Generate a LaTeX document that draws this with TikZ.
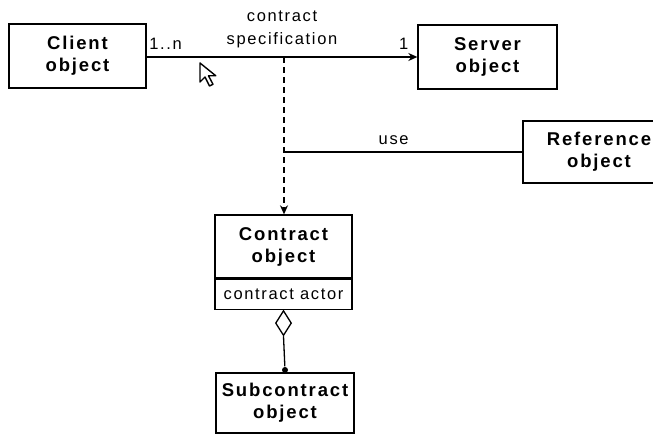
\documentclass[tikz,border=0pt]{standalone}
\usepackage{fontspec}
\setmainfont{Liberation Sans}[LetterSpace=10]
\usetikzlibrary{arrows.meta,shapes.geometric}

\begin{document}
\begin{tikzpicture}
  [x=1pt,y=-1pt,line width=1.3pt,every node/.style={inner sep=0pt,align=center}]
  \tikzstyle{obj} = [draw,font=\fontsize{18.5}{22}\selectfont\bfseries]
  \tikzstyle{lbl} = [font=\fontsize{16.5}{23}\selectfont]
  \tikzstyle{dep} = [dash pattern=on 6pt off 4pt,-{Stealth[length=9pt,width=8pt]}]
  \useasboundingbox (0,0) rectangle (653,435);
  % the classes
  \node[obj,minimum width=137,minimum height=64] (client) at (77.5,56)  {Client\\object};
  \node[obj,minimum width=139,minimum height=64] (server) at (487.5,57) {Server\\object};
  \node[obj,minimum width=152,minimum height=62] (ref)    at (599,152)  {Reference\\object};
  \node[obj,minimum width=137,minimum height=63] (contract) at (283.5,246.5) {Contract\\object};
  \node[draw,lbl,minimum width=137,minimum height=30,anchor=north] (actor) at (contract.south) {contract actor};
  \node[obj,minimum width=138,minimum height=60] (sub) at (285,403) {Subcontract\\object};
  % association and dependency
  \coordinate (spec) at (284,57);
  \coordinate (usejoin) at (284,152);
  \draw[-{Stealth[length=9pt,width=8pt]}] (client.east |- spec) --
    node[lbl,pos=0.07,above=7pt] {1..n}
    node[lbl,pos=0.5,above=8pt] {contract\\specification}
    node[lbl,pos=0.95,above=7pt] {1} (server.west |- spec);
  \draw[dep] (spec) -- (contract.north -| spec);
  \draw (ref.west) -- node[lbl,pos=0.54,above=7pt] {use} (usejoin);
  % aggregation
  \node[draw,diamond,fill=white,minimum width=16,minimum height=25,anchor=north] (agg) at (actor.south) {};
  \node[circle,fill,minimum size=6] (dot) at (285,370) {};
  \draw (agg.south) -- (dot);
  % mouse pointer
  \draw[line width=1.4pt,fill=white,line join=round]
    (200,63) -- ++(0,19) -- ++(5,-5) -- ++(4.5,9) -- ++(3.5,-1.7) -- ++(-4.5,-8.5) -- ++(7.3,0) -- cycle;
\end{tikzpicture}
\end{document}
